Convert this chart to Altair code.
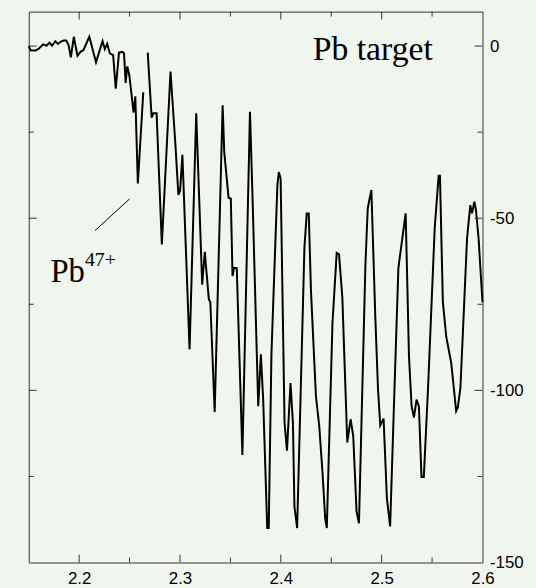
import altair as alt
import pandas as pd

# Spectrum trace (energy axis vs. signal), two separate scan pieces
scan1_x = [2.150, 2.1519, 2.1568, 2.1601, 2.1643, 2.1676, 2.1706, 2.1731, 2.1764, 2.1790,
           2.1819, 2.1846, 2.1872, 2.1895, 2.1918, 2.1947, 2.1983, 2.2016, 2.2042, 2.2101,
           2.2167, 2.2232, 2.2255, 2.2278, 2.2304, 2.2337, 2.2363, 2.2395, 2.2428, 2.2445,
           2.2461, 2.2477, 2.2497, 2.2540, 2.2557, 2.2582, 2.2636]
scan1_y = [0.0, -1.2, -1.3, -0.7, 0.5, 0.1, 1.0, 0.1, 1.4, 0.6,
           1.3, 1.6, 1.6, 0.3, -3.3, 2.7, -2.8, -1.6, -1.2, 2.7,
           -4.7, 1.4, -0.9, 0.7, -2.1, -2.6, -12.4, -1.9, -1.7, -2.1,
           -10.7, -5.9, -8.4, -19.3, -14.6, -39.9, -13.4]

scan2_x = [2.2680, 2.2719, 2.2736, 2.2768, 2.2820, 2.2906, 2.2955, 2.2984, 2.3001, 2.3024,
           2.3095, 2.3161, 2.3220, 2.3246, 2.3286, 2.3301, 2.3344, 2.3423, 2.3439, 2.3482,
           2.3504, 2.3521, 2.3537, 2.3563, 2.3619, 2.3694, 2.3717, 2.3776, 2.3802, 2.3825,
           2.3865, 2.3880, 2.3907, 2.3966, 2.3980, 2.3998, 2.4037, 2.4061, 2.4096, 2.4120,
           2.4135, 2.4162, 2.4234, 2.4257, 2.4277, 2.4299, 2.4348, 2.4381, 2.4414, 2.4440,
           2.4456, 2.4512, 2.4554, 2.4577, 2.4610, 2.4659, 2.4692, 2.4718, 2.4751, 2.4775,
           2.4839, 2.4862, 2.4898, 2.4937, 2.4964, 2.4986, 2.5019, 2.5052, 2.5084, 2.5133,
           2.5166, 2.5238, 2.5271, 2.5297, 2.5320, 2.5346, 2.5369, 2.5395, 2.5418, 2.5460,
           2.5526, 2.5565, 2.5578, 2.5607, 2.5641, 2.5690, 2.5739, 2.5755, 2.5781, 2.5847,
           2.5879, 2.5896, 2.5919, 2.5935, 2.5961, 2.6000]
scan2_y = [-1.9, -20.8, -19.5, -19.5, -57.6, -7.4, -28.8, -43.2, -42.0, -31.6,
           -88.1, -19.5, -69.3, -59.8, -73.5, -74.4, -106.3, -17.2, -30.8, -44.1,
           -44.3, -66.8, -64.4, -64.5, -118.8, -19.1, -41.4, -104.6, -89.5, -102.7,
           -140.0, -140.0, -89.3, -40.4, -36.6, -38.5, -109.4, -117.5, -97.9, -109.4,
           -133.8, -140.0, -58.6, -48.6, -48.6, -71.1, -101.7, -110.4, -124.2, -137.2,
           -140.0, -80.6, -60.1, -60.5, -73.0, -115.1, -108.4, -113.2, -135.2, -138.6,
           -63.4, -47.1, -41.8, -78.7, -99.8, -110.2, -108.2, -131.4, -139.5, -94.1,
           -64.4, -48.6, -90.2, -104.6, -107.9, -102.7, -104.6, -125.2, -125.2, -99.3,
           -52.9, -37.7, -37.7, -74.4, -84.5, -92.1, -106.0, -105.0, -99.3, -55.8,
           -46.2, -48.6, -45.2, -47.6, -55.8, -74.4]

# Axis tick positions
x_labels = [2.2, 2.3, 2.4, 2.5, 2.6]
x_major = [2.2, 2.3, 2.4, 2.5]
x_minor = [2.25, 2.35, 2.45, 2.55]
y_labels = [0, -50, -100, -150]
y_major = [0, -50, -100]
y_minor = [-25, -75, -125]

# Annotations
title_text = ["Pb target"]
title_x = [2.4912]
title_y = [-4.0]
ion_text = ["Pb"]
ion_x = [2.1715]
ion_y = [-68.4]
charge_text = ["47+"]
charge_x = [2.2057]
charge_y = [-63.9]
leader_x = [2.2157]
leader_y = [-53.6]
leader_x2 = [2.2500]
leader_y2 = [-44.4]

W, H = 458, 556
MAJ, MIN = 8, 5
INK = "#000000"
FRAME = "#333333"
BG = "#f0f6ed"

trace = pd.concat([
    pd.DataFrame({"energy": scan1_x, "signal": scan1_y, "scan": "a"}),
    pd.DataFrame({"energy": scan2_x, "signal": scan2_y, "scan": "b"}),
])

x_scale = alt.Scale(domain=[2.15, 2.6], nice=False, zero=False)
y_scale = alt.Scale(domain=[-150, 10], nice=False, zero=False)

x_axis = alt.Axis(values=x_labels, format=".1f", orient="bottom", ticks=False, tickSize=0,
                  domain=False, grid=False, labelPadding=8, labelFlush=False,
                  labelOverlap=False, title=None)
y_axis = alt.Axis(values=y_labels, orient="right", ticks=False, tickSize=0, domain=False,
                  grid=False, labelPadding=7, labelFlush=False, labelOverlap=False,
                  title=None, labelExpr="replace(datum.label, '\u2212', '-')")


def X(field):
    return alt.X(field, scale=x_scale, axis=x_axis)


def Y(field):
    return alt.Y(field, scale=y_scale, axis=y_axis)


line = alt.Chart(trace).mark_line(color=INK, strokeWidth=2).encode(
    x=X("energy:Q"), y=Y("signal:Q"), detail="scan:N",
)


def xticks(vals, length, top):
    df = pd.DataFrame({"energy": vals})
    y0, y1 = (0, length) if top else (H, H - length)
    return alt.Chart(df).mark_rule(color=FRAME, strokeWidth=1).encode(
        x=X("energy:Q"), y=alt.value(y0), y2=alt.value(y1))


def yticks(vals, length, left):
    df = pd.DataFrame({"signal": vals})
    x0, x1 = (0, length) if left else (W, W - length)
    return alt.Chart(df).mark_rule(color=FRAME, strokeWidth=1).encode(
        y=Y("signal:Q"), x=alt.value(x0), x2=alt.value(x1))


tick_layers = [
    xticks(x_major, MAJ, True), xticks(x_major, MAJ, False),
    xticks(x_minor, MIN, True), xticks(x_minor, MIN, False),
    yticks(y_major, MAJ, True), yticks(y_major, MAJ, False),
    yticks(y_minor, MIN, True), yticks(y_minor, MIN, False),
]


def label(texts, xs, ys, size, align):
    df = pd.DataFrame({"t": texts, "energy": xs, "signal": ys})
    return alt.Chart(df).mark_text(
        font="Liberation Serif", fontSize=size, color=INK, align=align,
        baseline="alphabetic").encode(
        x=X("energy:Q"), y=Y("signal:Q"), text="t:N")


title = label(title_text, title_x, title_y, 34, "center")
ion = label(ion_text, ion_x, ion_y, 33, "left")
charge = label(charge_text, charge_x, charge_y, 20, "left")

leader = alt.Chart(pd.DataFrame({
    "energy": leader_x, "signal": leader_y, "energy2": leader_x2, "signal2": leader_y2,
})).mark_rule(color=INK, strokeWidth=1).encode(
    x=X("energy:Q"), y=Y("signal:Q"), x2="energy2:Q", y2="signal2:Q",
)

chart = alt.layer(line, *tick_layers, title, ion, charge, leader).properties(
    width=W, height=H,
    padding={"left": 25, "top": 8, "right": 12, "bottom": 0},
    background=BG,
).configure_view(
    stroke=FRAME, strokeWidth=1, fill=BG,
).configure_axis(
    labelFont="Liberation Sans", labelFontSize=17, labelColor=INK,
)

chart.save("out.html", embed_options={"renderer": "svg", "actions": False})
